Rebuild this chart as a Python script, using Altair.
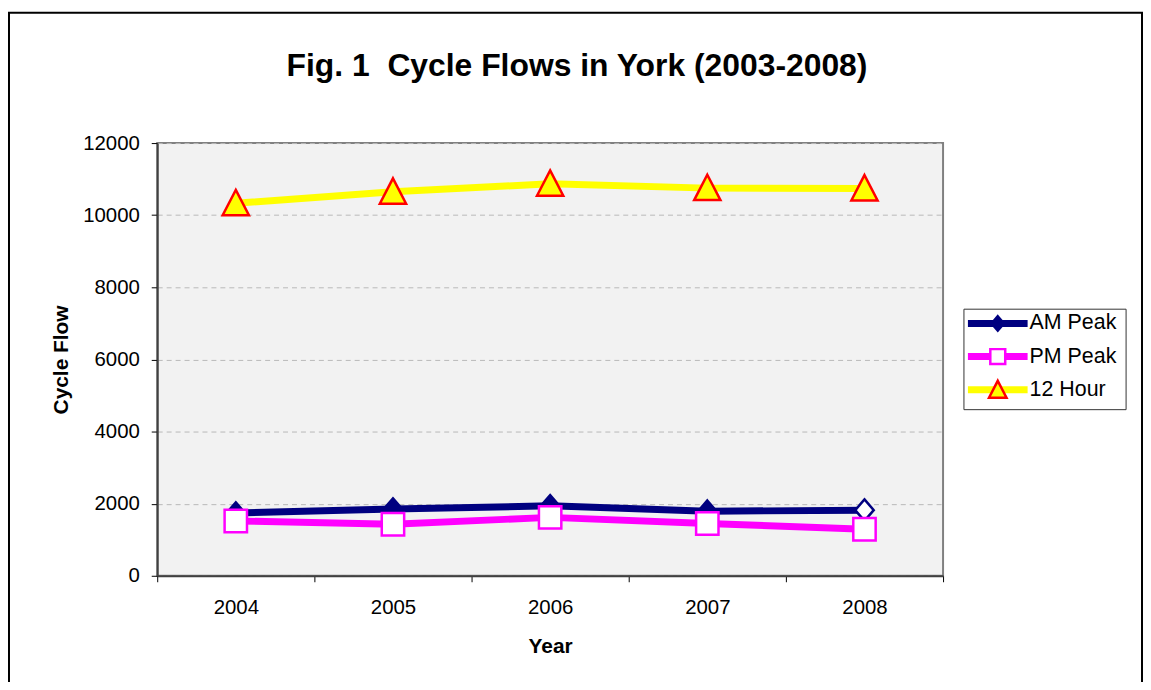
import altair as alt
import pandas as pd

# ---- data ----
years = [2004, 2005, 2006, 2007, 2008]
series = ["AM Peak", "PM Peak", "12 Hour"]
am_peak = [1740, 1850, 1940, 1790, 1820]
pm_peak = [1520, 1430, 1620, 1450, 1290]
twelve_hour = [10330, 10650, 10870, 10750, 10740]
y_ticks = [0, 2000, 4000, 6000, 8000, 10000, 12000]

# second space is a no-break space so that the double gap survives in SVG
title_text = "Fig. 1\u00a0 Cycle Flows in York (2003-2008)"
x_title = "Year"
y_title = "Cycle Flow"

rows = []
for name, vals in zip(series, [am_peak, pm_peak, twelve_hour]):
    for yr, v in zip(years, vals):
        rows.append({"series": name, "year": yr, "value": v})
df = pd.DataFrame(rows)
legend_df = pd.DataFrame({"series": series})

# ---- styles ----
FONT = "Liberation Sans"
line_colors = ["#000080", "#FF00FF", "#FFFF00"]
marker_fills = ["#000080", "#FFFFFF", "#FFFF00"]
marker_strokes = ["#000080", "#FF00FF", "#FF0000"]
marker_paths = [
    "M0,-0.72L0.62,0L0,0.72L-0.62,0Z",
    "M-0.75,-0.75H0.75V0.75H-0.75Z",
    "M0,-0.9L0.88,0.8L-0.88,0.8Z",
]
hollow_series, hollow_year = series[0], years[-1]

W, H = 790, 435
edges = [years[0] - 0.5 + i for i in range(len(years) + 1)]
half_band = W / len(years) / 2

x_enc = alt.X(
    "year:Q",
    scale=alt.Scale(domain=[edges[0], edges[-1]], nice=False, zero=False),
    axis=alt.Axis(
        values=edges,
        labelExpr=f"datum.value < {years[-1]} ? format(datum.value + 0.5, 'd') : ''",
        labelOffset=half_band,
        labelPadding=16,
        labelFlush=False,
        labelOverlap=False,
        labelFont=FONT,
        labelFontSize=20.5,
        labelColor="black",
        tickSize=6,
        tickColor="black",
        tickWidth=1,
        domainColor="#404040",
        domainWidth=2,
        grid=False,
        title=x_title,
        titleFont=FONT,
        titleFontSize=21,
        titleFontWeight="bold",
        titleColor="black",
        titleY=77,
        titleBaseline="alphabetic",
    ),
)

y_enc = alt.Y(
    "value:Q",
    scale=alt.Scale(domain=[y_ticks[0], y_ticks[-1]], nice=False),
    axis=alt.Axis(
        values=y_ticks,
        format="d",
        labelFont=FONT,
        labelFontSize=20.5,
        labelColor="black",
        labelPadding=12,
        tickSize=6,
        tickColor="black",
        tickWidth=1,
        domainColor="#404040",
        domainWidth=2,
        grid=True,
        gridColor="#b8b8b8",
        gridDash=[5, 4],
        gridWidth=1,
        title=y_title,
        titleFont=FONT,
        titleFontSize=21,
        titleFontWeight="bold",
        titleColor="black",
        titleX=-90,
        titleBaseline="alphabetic",
    ),
)

color_enc = alt.Color("series:N", scale=alt.Scale(domain=series, range=line_colors), legend=None)
shape_enc = alt.Shape("series:N", scale=alt.Scale(domain=series, range=marker_paths), legend=None)
fill_enc = alt.Fill("series:N", scale=alt.Scale(domain=series, range=marker_fills), legend=None)
stroke_enc = alt.Stroke("series:N", scale=alt.Scale(domain=series, range=marker_strokes), legend=None)

# ---- main plot ----
base = alt.Chart(df)
lines = base.mark_line(strokeWidth=7).encode(x=x_enc, y=y_enc, color=color_enc)
points = base.mark_point(filled=True, size=900, strokeWidth=2.5, opacity=1).encode(
    x=x_enc,
    y=y_enc,
    shape=shape_enc,
    fill=alt.condition(
        f"datum.series == '{hollow_series}' && datum.year == {hollow_year}",
        alt.value("white"),
        fill_enc,
    ),
    stroke=stroke_enc,
)
main = alt.layer(lines, points)

# ---- legend (built from the series list) ----
LX0, LX1, LY0, LY1 = 811, 974, 167, 268          # box, relative to plot area
row_y = alt.Y("series:N", scale=alt.Scale(type="point", domain=series,
                                          range=[181.3, 248], padding=0), axis=None)
lbase = alt.Chart(legend_df)
lbox = alt.Chart(pd.DataFrame({"k": [0]})).mark_rect(
    fill="white", stroke="#333333", strokeWidth=1
).encode(x=alt.value(LX0), x2=alt.value(LX1), y=alt.value(LY0), y2=alt.value(LY1))
lline = lbase.mark_rule(strokeWidth=7).encode(
    x=alt.value(815), x2=alt.value(875), y=row_y, color=color_enc
)
lmark = lbase.mark_point(filled=True, size=400, strokeWidth=2.5, opacity=1).encode(
    x=alt.value(845), y=row_y, shape=shape_enc, fill=fill_enc, stroke=stroke_enc
)
ltext = lbase.mark_text(
    align="left", baseline="middle", font=FONT, fontSize=21.5, color="black"
).encode(x=alt.value(877), y=row_y, text="series:N")
legend = alt.layer(lbox, lline, lmark, ltext)

frame = alt.Chart(pd.DataFrame({"k": [0]})).mark_rect(
    fill="transparent", stroke="black", strokeWidth=2
).encode(x=alt.value(-149), x2=alt.value(990), y=alt.value(-131), y2=alt.value(560))

chart = (
    alt.layer(frame, main, legend)
    .resolve_scale(y="independent")
    .properties(
        width=W,
        height=H,
        autosize="none",
        padding={"left": 150, "top": 134, "right": 201, "bottom": 105},
        background="white",
        title=alt.TitleParams(
            text=title_text,
            font=FONT,
            fontSize=32,
            fontWeight="bold",
            color="black",
            anchor="middle",
            dx=27,
            offset=-72,
        ),
    )
    .configure_view(fill="#f2f2f2", stroke="#808080", strokeWidth=2)
)

chart.save("out.html", embed_options={"renderer": "svg", "actions": False})
